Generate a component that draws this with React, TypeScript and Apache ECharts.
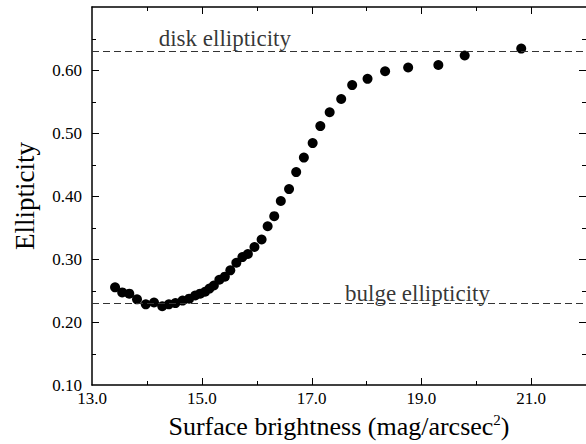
import React, { useEffect, useRef } from "react";
import * as echarts from "echarts";

// Surface brightness (mag/arcsec^2) and ellipticity of each isophote
const surfaceBrightness = [
  13.42, 13.55, 13.68, 13.82, 13.98, 14.13, 14.28, 14.4, 14.52, 14.65, 14.77,
  14.88, 14.97, 15.06, 15.14, 15.22, 15.32, 15.42, 15.52, 15.63, 15.74, 15.84,
  15.96, 16.09, 16.2, 16.32, 16.44, 16.59, 16.72, 16.86, 17.02, 17.16, 17.33,
  17.54, 17.74, 18.02, 18.34, 18.76, 19.31, 19.79, 20.82,
];
const ellipticity = [
  0.255, 0.247, 0.245, 0.236, 0.228, 0.231, 0.225, 0.228, 0.23, 0.234, 0.237,
  0.242, 0.245, 0.248, 0.253, 0.258, 0.267, 0.272, 0.282, 0.294, 0.303, 0.308,
  0.319, 0.331, 0.352, 0.368, 0.392, 0.411, 0.438, 0.461, 0.484, 0.511, 0.533,
  0.554, 0.576, 0.586, 0.598, 0.604, 0.608, 0.623, 0.634,
];

// Reference levels and their captions (caption x in mag/arcsec^2)
const referenceNames = ["disk ellipticity", "bulge ellipticity"];
const referenceLevels = [0.634, 0.228];
const referenceCaptionX = [15.42, 18.93];

// Axis ranges and the inward tick marks on all four sides of the frame
const X_MIN = 13;
const X_MAX = 22;
const Y_MIN = 0.1;
const Y_MAX = 0.7;
const xMajorTicks = [15, 17, 19, 21];
const xMinorTicks = [14, 16, 18, 20];
const yMajorTicks = [0.2, 0.3, 0.4, 0.5, 0.6];
const yMinorTicks = [0.15, 0.25, 0.35, 0.45, 0.55, 0.65];

const FONT = "Liberation Serif";

export default function App() {
  const ref = useRef<HTMLDivElement>(null);

  useEffect(() => {
    if (!ref.current) return;
    const chart = echarts.init(ref.current, null, { renderer: "svg" });

    const xBase = { type: "value", min: X_MIN, max: X_MAX, interval: 2, splitLine: { show: false } };
    const yBase = { type: "value", min: Y_MIN, max: Y_MAX, interval: 0.1, splitLine: { show: false } };

    const frame = {
      axisLine: { show: true, onZero: false, lineStyle: { color: "#000", width: 1.5 } },
      axisTick: { show: false },
      minorTick: { show: false },
      axisLabel: { show: false },
    };

    // kind: 0 x major, 1 x minor, 2 y major, 3 y minor
    const tickData = [
      ...xMajorTicks.map((v) => [v, Y_MIN, 0]),
      ...xMinorTicks.map((v) => [v, Y_MIN, 1]),
      ...yMajorTicks.map((v) => [X_MIN, v, 2]),
      ...yMinorTicks.map((v) => [X_MIN, v, 3]),
    ];
    const tickStyle = { stroke: "#000", lineWidth: 1 };

    chart.setOption({
      animation: false,
      grid: { left: 92, top: 7, width: 495, height: 385 },
      xAxis: [
        {
          ...xBase,
          ...frame,
          position: "bottom",
          axisLabel: {
            show: true,
            color: "#000",
            fontFamily: FONT,
            fontSize: 17,
            margin: 5,
            showMaxLabel: false,
            formatter: (v: number) => v.toFixed(1),
          },
          name: "Surface brightness (mag/arcsec{sup|2})",
          nameLocation: "middle",
          nameGap: 27,
          nameTextStyle: {
            color: "#000",
            fontFamily: FONT,
            fontSize: 26,
            verticalAlign: "top",
            rich: {
              sup: {
                fontFamily: FONT,
                fontSize: 15,
                color: "#000",
                verticalAlign: "top",
                padding: [0, 0, 13, 0],
              },
            },
          },
        },
        { ...xBase, ...frame, position: "top" },
      ],
      yAxis: [
        {
          ...yBase,
          ...frame,
          position: "left",
          axisLabel: {
            show: true,
            color: "#000",
            fontFamily: FONT,
            fontSize: 17,
            margin: 10,
            showMaxLabel: false,
            formatter: (v: number) => v.toFixed(2),
          },
          name: "Ellipticity",
          nameLocation: "middle",
          nameGap: 54,
          nameTextStyle: { color: "#000", fontFamily: FONT, fontSize: 27 },
        },
      ],
      series: [
        {
          type: "scatter",
          symbol: "circle",
          symbolSize: 10,
          itemStyle: { color: "#000", opacity: 1 },
          data: surfaceBrightness.map((x, i) => [x, ellipticity[i]]),
          markLine: {
            silent: true,
            symbol: ["none", "none"],
            label: { show: false },
            lineStyle: { color: "#333", width: 1, type: [7, 4] },
            data: referenceLevels.map((y) => ({ yAxis: y })),
          },
          z: 3,
        },
        {
          type: "scatter",
          symbolSize: 0,
          silent: true,
          data: referenceNames.map((name, i) => ({
            value: [referenceCaptionX[i], referenceLevels[i]],
            name,
          })),
          label: {
            show: true,
            position: "top",
            distance: -1,
            formatter: (p: any) => p.name,
            color: "#000",
            fontFamily: FONT,
            fontSize: 23,
          },
          z: 2,
        },
        {
          // Inward ticks on the frame, placed through the axis scales
          type: "custom",
          silent: true,
          clip: false,
          z: 4,
          data: tickData,
          renderItem: (_params: any, api: any) => {
            const kind = api.value(2);
            const len = kind % 2 === 0 ? 7 : 4;
            if (kind < 2) {
              const v = api.value(0);
              const b = api.coord([v, Y_MIN]);
              const t = api.coord([v, Y_MAX]);
              const x = Math.round(b[0]) + 0.5;
              return {
                type: "group",
                children: [
                  { type: "line", shape: { x1: x, y1: b[1], x2: x, y2: b[1] - len }, style: tickStyle },
                  { type: "line", shape: { x1: x, y1: t[1], x2: x, y2: t[1] + len }, style: tickStyle },
                ],
              };
            }
            const v = api.value(1);
            const l = api.coord([X_MIN, v]);
            const r = api.coord([X_MAX, v]);
            const y = Math.round(l[1]) + 0.5;
            return {
              type: "group",
              children: [
                { type: "line", shape: { x1: l[0], y1: y, x2: l[0] + len, y2: y }, style: tickStyle },
                { type: "line", shape: { x1: r[0], y1: y, x2: r[0] - len, y2: y }, style: tickStyle },
              ],
            };
          },
        },
      ],
    });

    return () => chart.dispose();
  }, []);

  return (
    <div
      ref={ref}
      style={{ position: "absolute", left: 0, top: 0, width: 586, height: 444, background: "#fff" }}
    />
  );
}
